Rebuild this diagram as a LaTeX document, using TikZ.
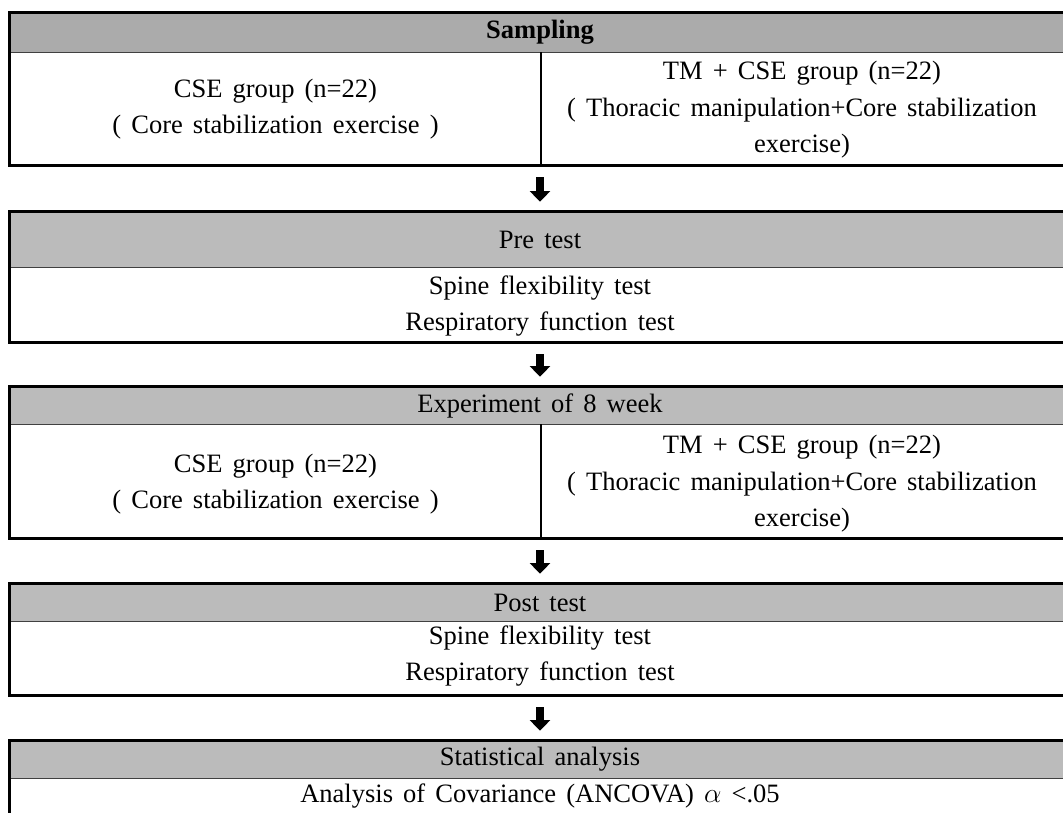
\documentclass[tikz,border=0pt]{standalone}
\usepackage{fontspec}
\setmainfont{Liberation Serif}
\usetikzlibrary{arrows.meta}

\definecolor{headgray}{RGB}{187,187,187}
\definecolor{firstgray}{RGB}{171,171,171}
\newcommand{\cellfont}{\fontsize{19.9}{27.4}\selectfont\spaceskip=0.38em plus 0.1em minus 0.05em}

\tikzset{
  stage/.style={rectangle, inner sep=0pt, minimum width=795pt, fill=white},
  headbar/.style={rectangle, inner sep=0pt, minimum width=795pt, fill=headgray, anchor=north, font=\cellfont},
  cell/.style={align=center, inner sep=0pt, font=\cellfont},
  frame/.style={line width=2.2pt},
  rule/.style={line width=0.8pt, black!75},
  flow/.style={line width=6pt, -{Triangle[width=15pt,length=8pt]}, shorten <=9pt, shorten >=7.5pt}
}

\begin{document}
\begin{tikzpicture}[x=0.75pt,y=-0.75pt]
  \useasboundingbox[fill=white] (0,0) rectangle (1063,813);

  % stages
  \node[stage, minimum height=114pt]   (s1) at (540,89) {};
  \node[stage, minimum height=97.5pt]  (s2) at (540,277) {};
  \node[stage, minimum height=113.25pt] (s3) at (540,462.5) {};
  \node[stage, minimum height=83.25pt] (s4) at (540,639.5) {};
  \node[stage, minimum height=66.75pt] (s5) at (540,785.5) {};

  % header bars
  \node[headbar, fill=firstgray, minimum height=29.25pt] (h1) at (s1.north) {\textbf{Sampling}};
  \node[headbar, minimum height=41.25pt] (h2) at (s2.north) {Pre test};
  \node[headbar, minimum height=27.75pt] (h3) at (s3.north) {Experiment of 8 week};
  \node[headbar, minimum height=27.75pt] (h4) at (s4.north) {Post test};
  \node[headbar, minimum height=27.75pt] (h5) at (s5.north) {Statistical analysis};

  \foreach \h in {h1,h2,h3,h4,h5}
    \draw[rule] (\h.south west) -- (\h.south east);

  % frames (open on the right)
  \foreach \s in {s1,s2,s3,s4,s5}
    \draw[frame] (\s.north east) -- (\s.north west) -- (\s.south west) -- (\s.south east);

  % group dividers
  \draw[frame] (h1.south) ++(1,0) -- (s1.south -| 541,0);
  \draw[frame] (h3.south) ++(1,0) -- (s3.south -| 541,0);

  % texts
  \node[cell] (g1) at (275.5,109) {CSE group (n=22)\\( Core stabilization exercise )};
  \node[cell] (t1) at (802,110) {TM + CSE group (n=22)\\( Thoracic manipulation+Core stabilization\\exercise)};
  \node[cell] (m1) at (540,306) {Spine flexibility test\\Respiratory function test};
  \node[cell] (g2) at (275.5,484) {CSE group (n=22)\\( Core stabilization exercise )};
  \node[cell] (t2) at (802,484) {TM + CSE group (n=22)\\( Thoracic manipulation+Core stabilization\\exercise)};
  \node[cell] (m2) at (540,656) {Spine flexibility test\\Respiratory function test};
  \node[cell] (a1) at (540,796) {Analysis of Covariance (ANCOVA) $\alpha$ <.05};

  % flow arrows
  \draw[flow] (s1.south) -- (s2.north);
  \draw[flow] (s2.south) -- (s3.north);
  \draw[flow] (s3.south) -- (s4.north);
  \draw[flow] (s4.south) -- (s5.north);
\end{tikzpicture}
\end{document}
